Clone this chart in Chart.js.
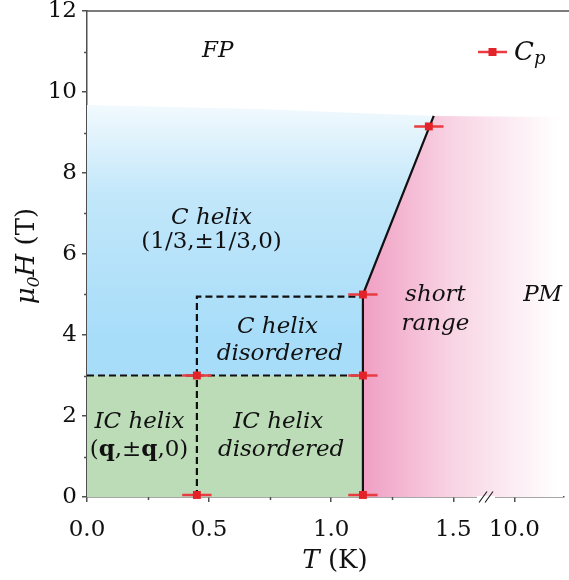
<!DOCTYPE html>
<html>
<head>
<meta charset="utf-8">
<script src="https://cdn.jsdelivr.net/npm/chart.js@4/dist/chart.umd.min.js"></script>
<style>
  html, body { margin: 0; padding: 0; background: #fff; }
  #wrap { width: 569px; height: 580px; }
</style>
</head>
<body>
<div id="wrap"><canvas id="phaseChart" width="569" height="580"></canvas></div>
<script>
// specific heat anomalies: T (K), field (T), error in T
const cpT = [0.45, 1.13, 0.45, 1.13, 1.13, 1.40];
const cpH = [0.05, 0.05, 3.0, 3.0, 5.0, 9.15];
const cpTErr = [0.06, 0.06, 0.06, 0.06, 0.06, 0.06];

// phase boundaries
const boundaryT = [1.13, 1.13, 1.42];
const boundaryH = [0, 5.0, 9.41];
const icBorderT = [0, 1.13];
const icBorderH = [3.0, 3.0];
const disorderT = [0.45, 0.45, 1.13];
const disorderH = [0, 4.95, 4.95];

// upper edges of the shaded regions (filled down to H = 0)
const icTopT = [0, 1.13];
const icTopH = [3.0, 3.0];
const cTopT = [0, 0.7, 1.42];
const cTopH = [9.68, 9.58, 9.41];
const srTopT = [1.13, 1.42, 1.95];
const srTopH = [5.0, 9.41, 9.38];

// axes
const xTicks = [0, 0.5, 1.0, 1.5, 1.75];
const xTickLabels = ['0.0', '0.5', '1.0', '1.5', '10.0'];
const xMinor = [0.25, 0.75, 1.25];
const xBreak = 1.634;
const yTicks = [0, 2, 4, 6, 8, 10, 12];
const yMinor = [1, 3, 5, 7, 9, 11];

const serif = '"DejaVu Serif", serif';
const axisColor = '#505050';
const cpRed = '#e3232a';
const errRed = '#ea3b41';
const fonts = {
  i: `italic 23px ${serif}`,
  r: `23px ${serif}`,
  b: `bold 23px ${serif}`
};

// text in the regions, anchored at (T, H) of the baseline centre
const regionLabels = [
  { x: 0.535, y: 10.87, parts: [['FP', 'i']] },
  { x: 0.51, y: 6.73, parts: [['C helix', 'i']] },
  { x: 0.51, y: 6.14, parts: [['(1/3,±1/3,0)', 'r']] },
  { x: 0.78, y: 4.06, parts: [['C helix', 'i']] },
  { x: 0.79, y: 3.39, parts: [['disordered', 'i']] },
  { x: 0.215, y: 1.71, parts: [['IC helix', 'i']] },
  { x: 0.213, y: 1.02, parts: [['(', 'r'], ['q', 'b'], [',±', 'r'], ['q', 'b'], [',0)', 'r']] },
  { x: 0.783, y: 1.71, parts: [['IC helix', 'i']] },
  { x: 0.795, y: 1.02, parts: [['disordered', 'i']] },
  { x: 1.427, y: 4.83, parts: [['short', 'i']] },
  { x: 1.427, y: 4.13, parts: [['range', 'i']] },
  { x: 1.866, y: 4.83, parts: [['PM', 'i']] }
];

const toPts = (xs, ys) => xs.map((x, i) => ({ x, y: ys[i] }));

const errData = [];
cpT.forEach((t, i) => {
  errData.push({ x: t - cpTErr[i], y: cpH[i] });
  errData.push({ x: t + cpTErr[i], y: cpH[i] });
  errData.push({ x: t, y: null });
});

function blueFill(context) {
  const chart = context.chart;
  if (!chart.chartArea) return '#a9def9';
  const y = chart.scales.y;
  const g = chart.ctx.createLinearGradient(0, y.getPixelForValue(4.0), 0, y.getPixelForValue(10.3));
  g.addColorStop(0, '#a8ddf9');
  g.addColorStop(0.55, '#c2e7fa');
  g.addColorStop(1, '#ffffff');
  return g;
}

function pinkFill(context) {
  const chart = context.chart;
  if (!chart.chartArea) return '#f0a2c5';
  const x = chart.scales.x;
  const g = chart.ctx.createLinearGradient(x.getPixelForValue(1.13), 0, x.getPixelForValue(1.93), 0);
  g.addColorStop(0, '#f09fc3');
  g.addColorStop(0.45, '#f8d3e3');
  g.addColorStop(1, '#ffffff');
  return g;
}

function drawRich(ctx, parts, cx, by) {
  let w = 0;
  parts.forEach(p => { ctx.font = p[1] in fonts ? fonts[p[1]] : p[1]; w += ctx.measureText(p[0]).width; });
  let x = cx - w / 2;
  parts.forEach(p => {
    ctx.font = p[1] in fonts ? fonts[p[1]] : p[1];
    ctx.fillText(p[0], x, by + (p[2] || 0));
    x += ctx.measureText(p[0]).width;
  });
}

const decor = {
  id: 'decor',
  afterDraw(chart) {
    const { ctx, chartArea: a, scales: { x, y } } = chart;
    ctx.save();
    ctx.strokeStyle = axisColor;
    ctx.lineWidth = 1.5;

    // top frame
    ctx.beginPath();
    ctx.moveTo(a.left, a.top);
    ctx.lineTo(chart.width, a.top);
    ctx.stroke();

    // minor ticks
    ctx.beginPath();
    xMinor.forEach(v => {
      const px = Math.round(x.getPixelForValue(v)) + 0.5;
      ctx.moveTo(px, a.bottom);
      ctx.lineTo(px, a.bottom + 3);
    });
    yMinor.forEach(v => {
      const py = Math.round(y.getPixelForValue(v)) + 0.5;
      ctx.moveTo(a.left - 3, py);
      ctx.lineTo(a.left, py);
    });
    ctx.stroke();

    // axis break
    const bx = x.getPixelForValue(xBreak);
    ctx.fillStyle = '#fff';
    ctx.fillRect(bx - 9, a.bottom - 1, 18, 3);
    ctx.strokeStyle = '#222';
    ctx.lineWidth = 1.2;
    ctx.beginPath();
    ctx.moveTo(bx - 7, a.bottom + 5.5);
    ctx.lineTo(bx + 1, a.bottom - 5.5);
    ctx.moveTo(bx - 1, a.bottom + 5.5);
    ctx.lineTo(bx + 7, a.bottom - 5.5);
    ctx.stroke();

    // region labels
    ctx.fillStyle = '#111';
    ctx.textAlign = 'left';
    ctx.textBaseline = 'alphabetic';
    regionLabels.forEach(l => {
      drawRich(ctx, l.parts, x.getPixelForValue(l.x), y.getPixelForValue(l.y));
    });

    // legend
    const lx = chart.width;
    const ly = a.top + 41;
    ctx.strokeStyle = errRed;
    ctx.lineWidth = 2.5;
    ctx.beginPath();
    ctx.moveTo(lx - 91, ly);
    ctx.lineTo(lx - 62, ly);
    ctx.stroke();
    ctx.fillStyle = cpRed;
    ctx.fillRect(lx - 80.5, ly - 4, 8, 8);
    ctx.fillStyle = '#111';
    ctx.font = `italic 26px ${serif}`;
    ctx.fillText('C', lx - 55, ly + 8);
    const cw = ctx.measureText('C').width;
    ctx.font = `italic 18px ${serif}`;
    ctx.fillText('p', lx - 55 + cw, ly + 12);

    // x title
    drawRich(ctx, [['T', `italic 26px ${serif}`], [' (K)', `26px ${serif}`]], (a.left + chart.width) / 2 + 7, a.bottom + 71);

    // y title
    ctx.translate(34, (a.top + a.bottom) / 2 + 2);
    ctx.rotate(-Math.PI / 2);
    drawRich(ctx, [
      ['μ', `italic 26px ${serif}`],
      ['0', `italic 17px ${serif}`, 5],
      ['H', `italic 26px ${serif}`],
      [' (T)', `26px ${serif}`]
    ], 0, 0);
    ctx.restore();
  }
};

const tickFont = { family: serif, size: 23 };

new Chart(document.getElementById('phaseChart'), {
  type: 'scatter',
  data: {
    datasets: [
      {
        label: 'Cp',
        data: toPts(cpT, cpH),
        pointStyle: 'rect',
        pointRadius: 5.6,
        pointBackgroundColor: cpRed,
        pointBorderWidth: 0,
        clip: false,
        order: 0
      },
      {
        label: 'Cp error',
        data: errData,
        showLine: true,
        spanGaps: false,
        borderColor: errRed,
        borderWidth: 2.5,
        pointRadius: 0,
        clip: false,
        order: 1
      },
      {
        label: 'boundary',
        data: toPts(boundaryT, boundaryH),
        showLine: true,
        borderColor: '#111',
        borderWidth: 2.2,
        pointRadius: 0,
        order: 2
      },
      {
        label: 'IC-C',
        data: toPts(icBorderT, icBorderH),
        showLine: true,
        borderColor: '#111',
        borderWidth: 2.2,
        borderDash: [7, 4],
        pointRadius: 0,
        order: 3
      },
      {
        label: 'disorder',
        data: toPts(disorderT, disorderH),
        showLine: true,
        borderColor: '#111',
        borderWidth: 2.2,
        borderDash: [7, 4],
        pointRadius: 0,
        order: 3
      },
      {
        label: 'IC helix',
        data: toPts(icTopT, icTopH),
        showLine: true,
        borderWidth: 0,
        borderColor: 'rgba(0,0,0,0)',
        backgroundColor: '#bcdcb8',
        fill: 'origin',
        pointRadius: 0,
        order: 5
      },
      {
        label: 'short range',
        data: toPts(srTopT, srTopH),
        showLine: true,
        borderWidth: 0,
        borderColor: 'rgba(0,0,0,0)',
        backgroundColor: pinkFill,
        fill: 'origin',
        pointRadius: 0,
        order: 6
      },
      {
        label: 'C helix',
        data: toPts(cTopT, cTopH),
        showLine: true,
        borderWidth: 0,
        borderColor: 'rgba(0,0,0,0)',
        backgroundColor: blueFill,
        fill: 'origin',
        pointRadius: 0,
        order: 7
      }
    ]
  },
  options: {
    responsive: false,
    devicePixelRatio: 1,
    animation: false,
    layout: { padding: { top: 11, right: 0, bottom: 0, left: 0 } },
    plugins: { legend: { display: false }, tooltip: { enabled: false } },
    scales: {
      x: {
        type: 'linear',
        min: 0,
        max: 1.951,
        z: 1,
        afterBuildTicks: s => { s.ticks = xTicks.map(v => ({ value: v })); },
        afterFit: s => { s.height = 83; s.paddingLeft = 0; s.paddingRight = 0; },
        ticks: {
          autoSkip: false,
          maxRotation: 0,
          padding: 14,
          color: '#111',
          font: tickFont,
          callback: v => {
            const i = xTicks.indexOf(v);
            return i >= 0 ? xTickLabels[i] : '';
          }
        },
        grid: { drawOnChartArea: false, tickLength: 5, color: axisColor, lineWidth: 1.5 },
        border: { color: axisColor, width: 1.5 }
      },
      y: {
        type: 'linear',
        min: 0,
        max: 12,
        z: 1,
        afterBuildTicks: s => { s.ticks = yTicks.map(v => ({ value: v })); },
        afterFit: s => { s.width = 87; s.paddingTop = 0; s.paddingBottom = 0; },
        ticks: { padding: 5, color: '#111', font: tickFont },
        grid: { drawOnChartArea: false, tickLength: 5, color: axisColor, lineWidth: 1.5 },
        border: { color: axisColor, width: 1.5 }
      }
    }
  },
  plugins: [decor]
});
</script>
</body>
</html>
